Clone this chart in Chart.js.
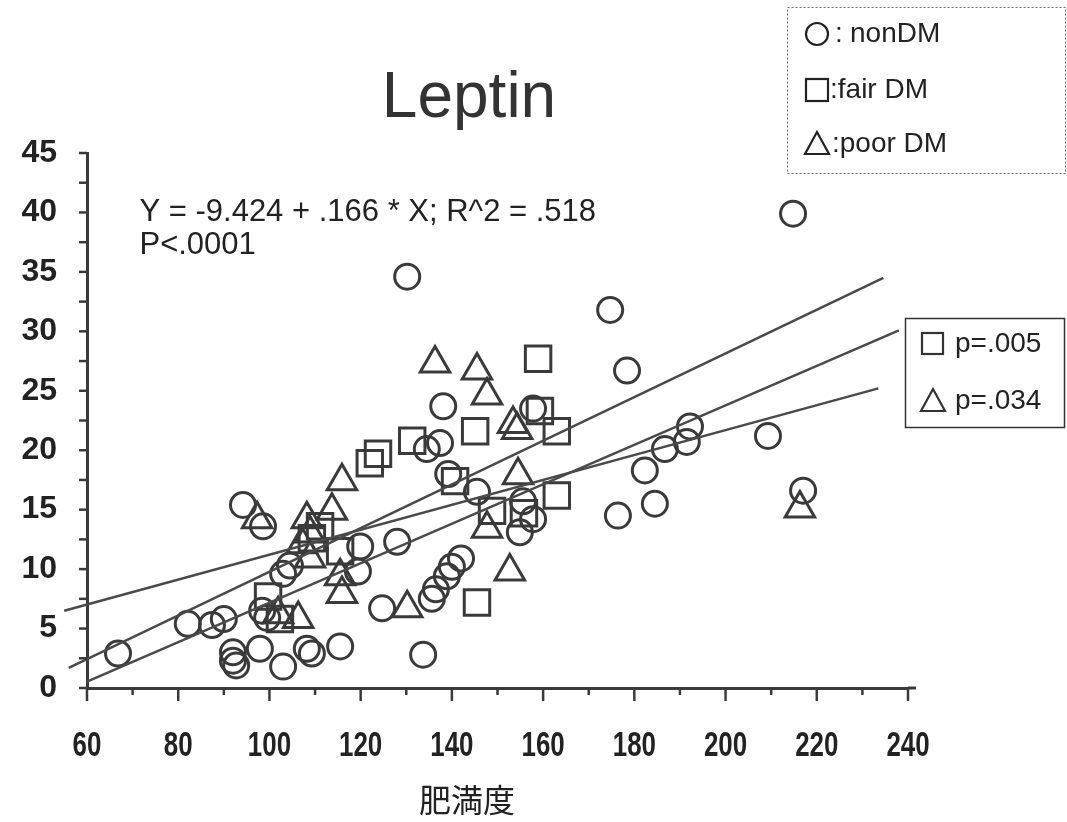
<!DOCTYPE html>
<html>
<head>
<meta charset="utf-8">
<script src="https://cdn.jsdelivr.net/npm/chart.js@4.4.1/dist/chart.umd.min.js"></script>
<style>
  html, body { margin: 0; padding: 0; background: #fff; }
  #wrap { width: 1067px; height: 822px; }
</style>
</head>
<body>
<div id="wrap"><canvas id="leptinChart" width="1067" height="822"></canvas></div>
<script>
// obesity index (x) vs leptin (y), three groups
const nonDmX = [66.8, 82.1, 87.4, 90.0, 94.2, 98.6, 92.0, 92.0, 92.7, 97.9, 98.4, 99.5, 103.0, 103.0, 104.5,
  108.2, 109.3, 115.5, 119.9, 119.4, 128.0, 124.7, 133.7, 130.2, 134.5, 137.4, 138.1, 139.2, 145.5,
  135.6, 136.5, 138.9, 140.0, 142.0, 155.6, 157.8, 154.9, 157.8, 214.8, 174.7, 178.4, 192.2, 191.5,
  186.7, 182.3, 209.3, 184.5, 176.4, 217.0];
const nonDmY = [2.9, 5.4, 5.3, 5.8, 15.4, 13.6, 3.0, 2.3, 1.9, 3.3, 6.5, 5.9, 1.8, 9.6, 10.3,
  3.3, 2.9, 3.5, 11.9, 9.8, 12.3, 6.7, 2.8, 34.6, 20.1, 20.6, 23.7, 18.0, 16.5,
  7.5, 8.3, 9.4, 10.2, 10.9, 15.7, 14.2, 13.1, 23.5, 39.9, 31.8, 26.7, 22.0, 20.7,
  20.1, 18.3, 21.2, 15.5, 14.5, 16.6];

const fairDmX = [99.7, 102.3, 109.3, 111.1, 115.5, 122.0, 123.8, 131.3, 140.7, 145.1, 145.5, 148.8,
  155.8, 158.9, 159.3, 163.0, 163.0];
const fairDmY = [7.7, 5.8, 12.6, 13.6, 11.5, 18.9, 19.7, 20.8, 17.4, 21.6, 7.2, 14.9,
  14.7, 27.7, 23.3, 21.6, 16.2];

const poorDmX = [97.3, 108.2, 113.7, 115.9, 115.9, 115.5, 108.9, 107.1, 106.3, 101.9, 130.2, 136.3,
  145.5, 147.7, 153.4, 154.3, 154.5, 152.7, 147.7, 216.3, 108.9];
const poorDmY = [14.2, 14.2, 14.9, 17.4, 7.9, 9.4, 10.9, 12.1, 5.8, 6.2, 6.7, 27.3,
  26.7, 24.6, 22.2, 21.7, 17.9, 9.8, 13.4, 15.1, 13.0];

// regression lines (end points)
const fitAllX = [60, 238];
const fitAllY = fitAllX.map(x => -9.424 + 0.166 * x);
const fitSteepX = [56, 234.6];
const fitSteepY = [1.7, 34.5];
const fitFlatX = [55, 233.5];
const fitFlatY = [6.5, 25.2];

const xTicks = [60, 80, 100, 120, 140, 160, 180, 200, 220, 240];
const yTicks = [0, 5, 10, 15, 20, 25, 30, 35, 40, 45];

const eqText = 'Y = -9.424 + .166 * X; R^2 = .518';
const pText = 'P<.0001';
const groupNames = ['nonDM', 'fair DM', 'poor DM'];
const groupP = ['p=.005', 'p=.034'];

const ink = '#3a3a3a';
const pts = (xs, ys) => xs.map((x, i) => ({ x: x, y: ys[i] }));

const markerSet = (label, xs, ys, style, r) => ({
  label: label,
  data: pts(xs, ys),
  pointStyle: style,
  pointRadius: r,
  pointHoverRadius: r,
  pointBorderWidth: 3,
  pointBorderColor: ink,
  pointBackgroundColor: 'rgba(0,0,0,0)',
  borderColor: ink,
  backgroundColor: 'rgba(0,0,0,0)',
  showLine: false,
  order: 2
});

const lineSet = (label, xs, ys) => ({
  label: label,
  data: pts(xs, ys),
  showLine: true,
  pointRadius: 0,
  borderColor: '#4a4a4a',
  borderWidth: 2.5,
  fill: false,
  clip: false,
  order: 1
});

// axis ticks and labels, equation text and the two boxes
const decor = {
  id: 'decor',
  afterDraw(chart) {
    const ctx = chart.ctx;
    const xs = chart.scales.x, ys = chart.scales.y;
    const area = chart.chartArea;
    ctx.save();
    ctx.strokeStyle = ink;
    ctx.lineWidth = 2.5;
    // x ticks: long every 20, short every 10
    for (let v = 60; v <= 240; v += 10) {
      const px = xs.getPixelForValue(v);
      const len = (v % 20 === 0) ? 13 : 7;
      ctx.beginPath();
      ctx.moveTo(px, area.bottom);
      ctx.lineTo(px, area.bottom + len);
      ctx.stroke();
    }
    // axis line runs a little past 240
    ctx.lineWidth = 3;
    ctx.beginPath();
    ctx.moveTo(area.right, area.bottom);
    ctx.lineTo(area.right + 8, area.bottom);
    ctx.stroke();
    ctx.lineWidth = 2.5;
    // y ticks every 2.5
    for (let v = 0; v <= 45; v += 2.5) {
      const py = ys.getPixelForValue(v);
      ctx.beginPath();
      ctx.moveTo(area.left, py);
      ctx.lineTo(area.left - 8, py);
      ctx.stroke();
    }

    // x tick labels, condensed
    ctx.fillStyle = '#222';
    ctx.font = 'bold 35px "Liberation Sans", Arial, sans-serif';
    ctx.textAlign = 'center';
    ctx.textBaseline = 'middle';
    xTicks.forEach(v => {
      ctx.save();
      ctx.translate(xs.getPixelForValue(v), 746);
      ctx.scale(0.74, 1);
      ctx.fillText(String(v), 0, 0);
      ctx.restore();
    });

    // title
    ctx.fillStyle = '#333';
    ctx.font = '64px "Liberation Sans", Arial, sans-serif';
    ctx.textAlign = 'center';
    ctx.textBaseline = 'alphabetic';
    ctx.fillText('Leptin', 469, 117);

    // regression equation
    ctx.font = '31px "Liberation Sans", Arial, sans-serif';
    ctx.textAlign = 'left';
    ctx.textBaseline = 'middle';
    ctx.fillStyle = '#222';
    ctx.fillText(eqText, xs.getPixelForValue(71.5), ys.getPixelForValue(40.0));
    ctx.fillText(pText, xs.getPixelForValue(71.5), ys.getPixelForValue(37.2));

    // group key box (dotted)
    ctx.strokeStyle = '#666';
    ctx.lineWidth = 1;
    ctx.setLineDash([2, 2]);
    ctx.strokeRect(787.5, 7.5, 278, 166);
    ctx.setLineDash([]);
    ctx.font = '28px "Liberation Sans", Arial, sans-serif';
    ctx.fillStyle = '#222';
    ctx.strokeStyle = '#222';
    ctx.lineWidth = 2.2;
    const rowY = [34, 90, 144];
    // circle
    ctx.beginPath();
    ctx.arc(817, rowY[0], 11, 0, Math.PI * 2);
    ctx.stroke();
    ctx.fillText(':', 835, rowY[0]);
    ctx.fillText(groupNames[0], 850, rowY[0]);
    // square
    ctx.strokeRect(806, rowY[1] - 11, 22, 22);
    ctx.fillText(':' + groupNames[1], 830, rowY[1]);
    // triangle
    ctx.beginPath();
    ctx.moveTo(817, rowY[2] - 12);
    ctx.lineTo(829, rowY[2] + 10);
    ctx.lineTo(805, rowY[2] + 10);
    ctx.closePath();
    ctx.stroke();
    ctx.fillText(':' + groupNames[2], 832, rowY[2]);

    // p-value box
    ctx.strokeStyle = '#333';
    ctx.lineWidth = 1.5;
    ctx.strokeRect(905.5, 318.5, 159, 109);
    ctx.lineWidth = 2.2;
    ctx.strokeRect(922, 333, 21, 21);
    ctx.fillText(groupP[0], 955, 344);
    ctx.beginPath();
    ctx.moveTo(933, 389);
    ctx.lineTo(945, 411);
    ctx.lineTo(921, 411);
    ctx.closePath();
    ctx.stroke();
    ctx.fillText(groupP[1], 955, 401);

    // axis title
    ctx.font = '32px "Noto Sans CJK JP", sans-serif';
    ctx.textAlign = 'center';
    ctx.fillStyle = '#222';
    ctx.fillText('肥満度', 467, 800);
    ctx.restore();
  }
};

new Chart(document.getElementById('leptinChart'), {
  type: 'scatter',
  data: {
    datasets: [
      lineSet('all', fitAllX, fitAllY),
      lineSet('steep', fitSteepX, fitSteepY),
      lineSet('flat', fitFlatX, fitFlatY),
      markerSet(groupNames[0], nonDmX, nonDmY, 'circle', 12.5),
      markerSet(groupNames[1], fairDmX, fairDmY, 'rect', 18),
      markerSet(groupNames[2], poorDmX, poorDmY, 'triangle', 17)
    ]
  },
  options: {
    responsive: false,
    animation: false,
    devicePixelRatio: 1,
    layout: { padding: { left: 0, top: 153, right: 159, bottom: 0 } },
    plugins: {
      legend: { display: false },
      tooltip: { enabled: false },
      title: { display: false }
    },
    scales: {
      x: {
        type: 'linear',
        min: 60,
        max: 240,
        afterFit(scale) { scale.height = 134; },
        afterBuildTicks(scale) { scale.ticks = xTicks.map(v => ({ value: v })); },
        grid: { display: true, drawOnChartArea: false, drawTicks: false },
        border: { display: true, color: ink, width: 3 },
        ticks: { display: false }
      },
      y: {
        type: 'linear',
        min: 0,
        max: 45,
        afterFit(scale) { scale.width = 87; },
        afterBuildTicks(scale) { scale.ticks = yTicks.map(v => ({ value: v })); },
        grid: { display: true, drawOnChartArea: false, drawTicks: false },
        border: { display: true, color: ink, width: 3 },
        ticks: {
          padding: 30,
          color: '#222',
          font: { family: '"Liberation Sans", Arial, sans-serif', size: 32, weight: 'bold' }
        }
      }
    }
  },
  plugins: [decor]
});
</script>
</body>
</html>
